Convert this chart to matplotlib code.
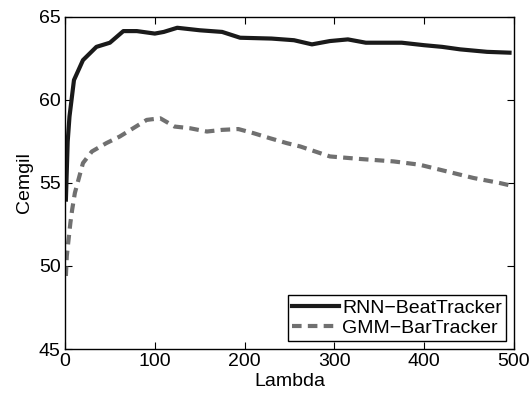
import matplotlib
matplotlib.use("Agg")
import matplotlib.pyplot as plt

# values
lam_rnn = [1, 3, 5, 10, 20, 35, 50, 65, 80, 100, 110, 125, 150, 175, 195, 230,
           255, 275, 295, 315, 335, 375, 400, 420, 440, 470, 495]
rnn = [54.0, 57.5, 59.0, 61.2, 62.4, 63.2, 63.45, 64.15, 64.15, 64.0, 64.1, 64.35,
       64.2, 64.1, 63.75, 63.7, 63.6, 63.35, 63.55, 63.65, 63.45, 63.45, 63.3,
       63.2, 63.05, 62.9, 62.85]

lam_gmm = [1, 2, 4, 6, 8, 11, 15, 20, 30, 46, 61, 76, 91, 106, 122, 139, 158,
           175, 193, 210, 228, 247, 262, 295, 328, 366, 395, 425, 455, 484, 500]
gmm = [49.4, 50.6, 51.6, 52.6, 53.4, 54.4, 55.2, 56.2, 56.9, 57.4, 57.8, 58.3,
       58.8, 58.9, 58.4, 58.3, 58.1, 58.2, 58.25, 58.0, 57.7, 57.4, 57.2, 56.6,
       56.45, 56.3, 56.1, 55.7, 55.3, 55.0, 54.8]

plt.rcParams['font.family'] = ['Liberation Sans', 'DejaVu Sans']

fig = plt.figure(figsize=(5.31, 3.94), dpi=100)
ax = fig.add_axes([0.1224, 0.1142, 0.8456, 0.8427])

ax.plot(lam_rnn, rnn, color="#1a1a1a", lw=3.0, label="RNN\u2212BeatTracker",
        solid_joinstyle="round")
ax.plot(lam_gmm, gmm, color="#707070", lw=3.0, dashes=(2.3, 1.5),
        label="GMM\u2212BarTracker")

ax.set_xlim(0, 500)
ax.set_ylim(45, 65)
ax.set_xticks(range(0, 501, 100))
ax.set_yticks(range(45, 66, 5))
ax.tick_params(direction="in", top=True, right=True, length=5, width=0.8,
               labelsize=14, pad=3)
for sp in ax.spines.values():
    sp.set_linewidth(1.0)

ax.set_xlabel("Lambda", fontsize=14, labelpad=2)
ax.set_ylabel("Cemgil", fontsize=14, labelpad=4)

leg = ax.legend(loc="lower right", fontsize=14, fancybox=False,
                framealpha=1, edgecolor="black", handlelength=2.4,
                handletextpad=0.15, borderpad=0.22, labelspacing=0.12,
                borderaxespad=0.4)
leg.get_frame().set_linewidth(1.0)

fig.savefig("out.png", dpi=100)
